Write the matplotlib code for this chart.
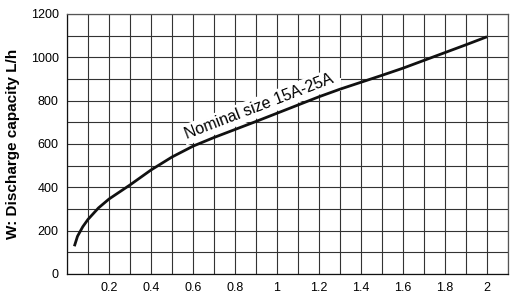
import numpy as np
import matplotlib.pyplot as plt
from matplotlib.patches import Rectangle

przeplyw_x = [0.035, 0.05, 0.075, 0.1, 0.15, 0.2, 0.3, 0.4, 0.5, 0.6, 0.7, 0.8, 0.9, 1.0,
              1.1, 1.2, 1.3, 1.4, 1.5, 1.6, 1.7, 1.8, 1.9, 2.0]
wydajnosc = [128, 174, 218, 252, 305, 346, 411, 480, 540, 590, 630, 667, 704, 742,
             780, 818, 853, 885, 917, 950, 986, 1022, 1058, 1095]
etykiety_x = [0.2, 0.4, 0.6, 0.8, 1, 1.2, 1.4, 1.6, 1.8, 2]
etykiety_y = [0, 200, 400, 600, 800, 1000, 1200]


def main():
    plt.rcParams['font.family'] = ['Liberation Sans', 'DejaVu Sans']
    fig = plt.figure(figsize=(5.12, 2.95), dpi=100)
    ax = fig.add_axes([67 / 512, 21 / 295, 441 / 512, 260 / 295])

    ax.set_xlim(0, 2.1)
    ax.set_ylim(0, 1200)
    ax.set_xticks(np.arange(0, 2.1001, 0.1), minor=True)
    ax.set_yticks(np.arange(0, 1201, 100), minor=True)
    ax.set_xticks(etykiety_x)
    ax.set_xticklabels([str(v) for v in etykiety_x])
    ax.set_yticks(etykiety_y)
    ax.grid(True, which='both', color='#333333', linewidth=0.8)
    ax.tick_params(which='both', length=0, labelsize=9, pad=6)
    for s in ax.spines.values():
        s.set_color('#555555')
        s.set_linewidth(0.9)
    ax.spines['left'].set_color('#111111')
    ax.spines['bottom'].set_color('#111111')

    ax.plot(przeplyw_x, wydajnosc, color='#111111', linewidth=2, zorder=5,
            solid_joinstyle='round', solid_capstyle='butt')

    # biale tlo za napisem
    ax.add_patch(Rectangle((1.205, 845), 0.1, 58, facecolor='white',
                           edgecolor='none', zorder=3))
    ax.text(0.915, 772, 'Nominal size 15A-25A', rotation=21, fontsize=11.5,
            ha='center', va='center', rotation_mode='anchor', zorder=4,
            bbox=dict(facecolor='white', edgecolor='none', pad=2))

    ax.set_ylabel('W: Discharge capacity L/h', fontsize=11, fontweight='bold', labelpad=8)

    fig.savefig('out.png', dpi=100)


if __name__ == '__main__':
    main()
